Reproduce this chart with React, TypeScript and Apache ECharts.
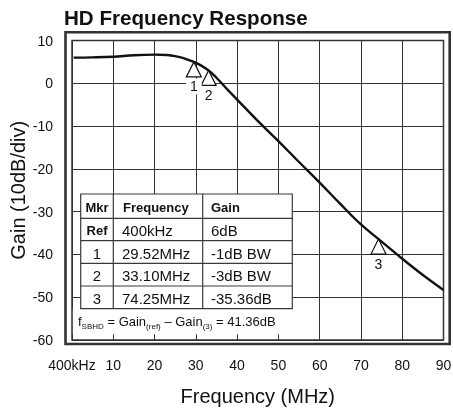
import React, { useEffect, useRef } from "react";
import * as echarts from "echarts";

const FONT = "'Liberation Sans', Arial, Helvetica, sans-serif";

// Response curve (MHz, dB)
const freqs = [0.4, 5, 10, 15, 20, 23, 25, 27, 29.52, 31, 33.1, 35, 37.5, 40, 45, 50, 55, 60, 65, 70, 75, 80, 85, 90];
const gains = [6.0, 6.05, 6.2, 6.55, 6.7, 6.6, 6.35, 5.9, 5.0, 4.3, 3.0, 1.3, -1.3, -3.8, -8.8, -13.5, -18.4, -23.2, -28.2, -33.0, -37.0, -41.0, -44.8, -48.3];

// Markers
const markerFreqs = [29.52, 33.1, 74.25];
const markerGains = [5, 3, -36.4];
const markerNames = ["1", "2", "3"];

// Axis ticks
const xTicks = [0, 10, 20, 30, 40, 50, 60, 70, 80, 90];
const xTickLabels = ["400kHz", "10", "20", "30", "40", "50", "60", "70", "80", "90"];
const yTicks = [-60, -50, -40, -30, -20, -10, 0, 10];

// Table
const tableHeader = ["Mkr", "Frequency", "Gain"];
const tableMkr = ["Ref", "1", "2", "3"];
const tableFreq = ["400kHz", "29.52MHz", "33.10MHz", "74.25MHz"];
const tableGain = ["6dB", "-1dB BW", "-3dB BW", "-35.36dB"];

export default function App() {
  const ref = useRef<HTMLDivElement>(null);

  useEffect(() => {
    if (!ref.current) return;
    const chart = echarts.init(ref.current, undefined, { renderer: "svg" });

    // table geometry
    const tL = 80.7, tR = 292.3;
    const colX = [80.7, 113.3, 202.7, 292.3];
    const rowY = [194, 218.3, 240.7, 263.3, 286, 308.7];
    const lineStyle = { stroke: "#3a3a3a", lineWidth: 1.2 };
    const Z = 100;
    const graphics: any[] = [];
    // outer frame
    graphics.push({
      type: "rect", z: 50, silent: true,
      shape: { x: 65.5, y: 32.3, width: 384.2, height: 311.7 },
      style: { fill: "none", stroke: "#333", lineWidth: 2.6 },
    });
    // formula background
    graphics.push({
      type: "rect", z: Z, silent: true,
      shape: { x: 72.8, y: 308.7, width: 222, height: 25.5 },
      style: { fill: "#fff", stroke: "none" },
    });
    // table background
    graphics.push({
      type: "rect", z: Z, silent: true,
      shape: { x: tL, y: rowY[0], width: tR - tL, height: rowY[5] - rowY[0] },
      style: { fill: "#fff", stroke: "#3a3a3a", lineWidth: 1.2 },
    });
    for (let i = 1; i < rowY.length - 1; i++) {
      graphics.push({ type: "line", z: Z + 1, silent: true, shape: { x1: tL, y1: rowY[i], x2: tR, y2: rowY[i] }, style: lineStyle });
    }
    for (let i = 1; i < colX.length - 1; i++) {
      graphics.push({ type: "line", z: Z + 1, silent: true, shape: { x1: colX[i], y1: rowY[0], x2: colX[i], y2: rowY[5] }, style: lineStyle });
    }
    const cellText = (text: string, x: number, y: number, align: string, bold: boolean, size: number) => ({
      type: "text", z: Z + 2, silent: true, x, y,
      style: {
        text, fill: "#111", font: `${bold ? "bold " : ""}${size}px ${FONT}`,
        textAlign: align, textVerticalAlign: "middle",
      },
    });
    const rowMid = (r: number) => (rowY[r] + rowY[r + 1]) / 2 + 1;
    graphics.push(cellText(tableHeader[0], (colX[0] + colX[1]) / 2, rowMid(0), "center", true, 13));
    graphics.push(cellText(tableHeader[1], 123, rowMid(0), "left", true, 13));
    graphics.push(cellText(tableHeader[2], 211, rowMid(0), "left", true, 13));
    for (let r = 0; r < tableMkr.length; r++) {
      graphics.push(cellText(tableMkr[r], (colX[0] + colX[1]) / 2, rowMid(r + 1), "center", r === 0, r === 0 ? 13 : 15));
      graphics.push(cellText(tableFreq[r], 122, rowMid(r + 1), "left", false, 15));
      graphics.push(cellText(tableGain[r], 211, rowMid(r + 1), "left", false, 15));
    }
    // formula
    graphics.push({
      type: "text", z: Z + 2, silent: true, x: 78, y: 321.5,
      style: {
        text: "{m|f}{s|SBHD}{m| = Gain}{s|(ref)}{m| \u2013 Gain}{s|(3)}{m| = 41.36dB}",
        textVerticalAlign: "middle",
        rich: {
          m: { fontSize: 13, fontFamily: FONT, fill: "#111", lineHeight: 17 },
          s: { fontSize: 8, fontFamily: FONT, fill: "#111", lineHeight: 8, verticalAlign: "bottom" },
        },
      },
    });

    chart.setOption({
      animation: false,
      title: {
        text: "HD Frequency Response",
        left: 64,
        top: 7,
        padding: 0,
        textStyle: { fontSize: 20.6, fontWeight: "bold", fontFamily: FONT, color: "#111" },
      },
      grid: {
        left: 72, right: 9.5, top: 40.5, bottom: 70,
        outerBoundsMode: "none",
        containLabel: false,
        show: true, borderColor: "#333", borderWidth: 1.5, backgroundColor: "transparent",
      },
      xAxis: {
        type: "value",
        min: xTicks[0], max: xTicks[xTicks.length - 1], interval: 10,
        axisLine: { show: false }, axisTick: { show: false },
        splitLine: { show: true, lineStyle: { color: "#333", width: 1 } },
        axisLabel: {
          margin: 18, fontSize: 14, fontFamily: FONT, color: "#111",
          showMinLabel: true, showMaxLabel: true,
          formatter: (v: number) => {
            const i = xTicks.indexOf(Math.round(v));
            return i >= 0 ? xTickLabels[i] : String(v);
          },
        },
        name: "Frequency (MHz)",
        nameLocation: "middle",
        nameGap: 46,
        nameMoveOverlap: false,
        nameTextStyle: { fontSize: 20, fontFamily: FONT, color: "#111" },
      },
      yAxis: {
        type: "value",
        min: yTicks[0], max: yTicks[yTicks.length - 1], interval: 10,
        axisLine: { show: false }, axisTick: { show: false },
        splitLine: { show: true, lineStyle: { color: "#333", width: 1 } },
        axisLabel: { margin: 19, fontSize: 14, fontFamily: FONT, color: "#111", showMinLabel: true, showMaxLabel: true },
        name: "Gain (10dB/div)",
        nameLocation: "middle",
        nameGap: 44,
        nameMoveOverlap: false,
        nameTextStyle: { fontSize: 20, fontFamily: FONT, color: "#111" },
      },
      graphic: graphics,
      series: [
        {
          type: "line",
          data: freqs.map((f, i) => [f, gains[i]]),
          smooth: 0.4,
          showSymbol: false,
          lineStyle: { color: "#111", width: 2.4 },
          z: 3,
        },
        {
          type: "scatter",
          data: markerFreqs.map((f, i) => ({ value: [f, markerGains[i]], name: markerNames[i] })),
          symbol: "triangle",
          symbolSize: [15, 15],
          symbolOffset: [0, 7.5],
          itemStyle: { color: "#fff", borderColor: "#111", borderWidth: 1.2, opacity: 1 },
          label: {
            show: true, position: "bottom", distance: 1,
            formatter: (p: any) => p.name,
            fontSize: 14, fontFamily: FONT, color: "#111",
            backgroundColor: "#fff", padding: [1, 4],
          },
          z: 4,
        },
      ],
    });

    return () => chart.dispose();
  }, []);

  return <div ref={ref} style={{ position: "fixed", left: 0, top: 0, width: 453, height: 410 }} />;
}
